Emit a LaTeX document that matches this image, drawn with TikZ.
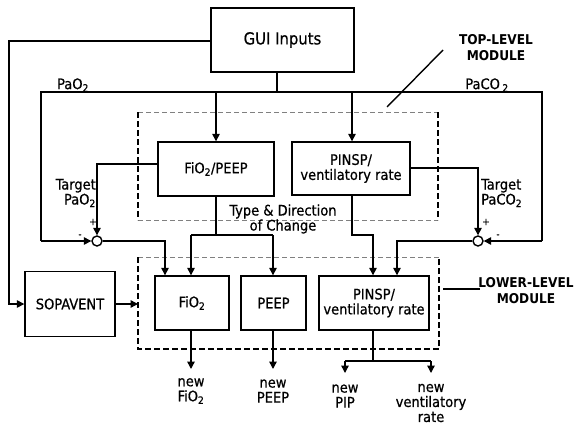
\documentclass[tikz,border=0pt]{standalone}
\usepackage{fontspec}
\setmainfont{DejaVu Sans Condensed}[FakeBold=0.6]
\newfontfamily\modfont{DejaVu Sans Condensed}
\usetikzlibrary{arrows.meta}
\begin{document}
\begin{tikzpicture}[x=1pt,y=-1pt,
  every node/.style={font=\fontsize{14.5}{15}\selectfont},
  box/.style={draw,line width=1.4pt,inner sep=0pt,align=center},
  wire/.style={line width=1.4pt},
  arr/.style={wire,-{Triangle[length=7.5pt,width=7.5pt]}},
  sumj/.style={circle,draw,line width=1.4pt,fill=white,minimum size=10pt,inner sep=0pt},
  modline/.style={line width=2.2pt,dash pattern=on 6pt off 3pt},
  modthin/.style={line width=0.6pt,gray,dash pattern=on 5pt off 3pt},
  lbl/.style={inner sep=0pt,align=center},
  sign/.style={inner sep=0pt,font=\fontsize{10}{10}\selectfont},
  modlbl/.style={inner sep=0pt,align=center,font=\fontsize{13.5}{16}\selectfont\modfont\bfseries}]
\useasboundingbox (0,0) rectangle (575,428);

% module frames: thin grey tops, heavy dashed sides
\draw[modthin] (138,112) -- (438,112);
\draw[modthin] (138,220) -- (438,220);
\draw[modline] (138,112) -- (138,220);
\draw[modline] (438,112) -- (438,220);
\draw[modthin] (138,257) -- (439,257);
\draw[modline] (138,257) -- (138,349) -- (439,349) -- (439,257);

% blocks
\node[box,minimum width=143pt,minimum height=64pt,font=\fontsize{16.5}{18}\selectfont] (gui) at (282.5,40) {GUI Inputs};
\node[box,minimum width=116pt,minimum height=54pt] (fp) at (216,169) {FiO\textsubscript{2}/PEEP};
\node[box,minimum width=118pt,minimum height=53pt] (pt) at (351,168.5) {PINSP/\\ventilatory rate};
\node[box,minimum width=90pt,minimum height=65pt] (sop) at (70,304) {SOPAVENT};
\node[box,minimum width=74pt,minimum height=54pt] (fio) at (192,303) {FiO\textsubscript{2}};
\node[box,minimum width=65pt,minimum height=54pt] (peep) at (273.5,303) {PEEP};
\node[box,minimum width=110pt,minimum height=54pt] (pl) at (374,303) {PINSP/\\ventilatory rate};

% summing junctions
\node[sumj] (sL) at (97,241) {};
\node[sumj] (sR) at (478,241) {};

% feedback bus from the GUI
\coordinate (pj) at (277,92);
\coordinate (lc) at (41,92);
\coordinate (rc) at (542,92);
\coordinate (lcb) at (41,241);
\coordinate (rcb) at (542,241);
\draw[wire] (gui.south -| pj) -- (pj);
\draw[wire] (lcb) -- (lc) -- (rc) -- (rcb);
\draw[arr] (lcb) -- (sL);
\draw[arr] (rcb) -- (sR);
\draw[arr] (fp.north |- lc) -- (fp.north);
\coordinate (pn) at (352,92);
\draw[arr] (pn) -- (pt.north -| pn);

% GUI to SOPAVENT
\coordinate (g1) at (9,41);
\coordinate (g2) at (9,304);
\draw[arr] (gui.west |- g1) -- (g1) -- (g2) -- (sop.west);
\coordinate (sb) at (138,304);
\draw[arr] (sop.east) -- (sb);

% targets into the junctions
\coordinate (tl) at (97,164);
\draw[arr] (fp.west |- tl) -- (tl) -- (sL.north);
\coordinate (tr) at (478,168);
\draw[arr] (pt.east |- tr) -- (tr) -- (sR.north);

% type & direction of change
\coordinate (td) at (216,235);
\coordinate (tdl) at (191,235);
\coordinate (tdr) at (273,235);
\draw[wire] (fp.south) -- (td);
\draw[wire] (tdl) -- (tdr);
\draw[arr] (tdl) -- (fio.north -| tdl);
\draw[arr] (tdr) -- (peep.north -| tdr);
\coordinate (fl) at (165,241);
\draw[arr] (sL.east) -- (fl) -- (fio.north -| fl);
\coordinate (pa) at (352,235);
\coordinate (pb) at (373,235);
\draw[arr] (pt.south -| pa) -- (pa) -- (pb) -- (pl.north -| pb);
\coordinate (pc) at (397,241);
\draw[arr] (sR.west) -- (pc) -- (pl.north -| pc);

% outputs
\coordinate (af) at (191,369);
\coordinate (ap) at (273,369);
\draw[arr] (fio.south -| af) -- (af);
\draw[arr] (peep.south -| ap) -- (ap);
\coordinate (ob) at (373,361);
\coordinate (obl) at (345,361);
\coordinate (obr) at (431,361);
\coordinate (oal) at (345,373);
\coordinate (oar) at (431,373);
\draw[wire] (pl.south -| ob) -- (ob);
\draw[wire] (obl) -- (obr);
\draw[arr] (obl) -- (oal);
\draw[arr] (obr) -- (oar);

% labels
\node[lbl] (nf) at (191,391) {new\\FiO\textsubscript{2}};
\node[lbl] (np) at (273,391) {new\\PEEP};
\node[lbl] (npip) at (345,396) {new\\PIP};
\node[lbl] (nvr) at (431,403) {new\\ventilatory\\rate};
\node[lbl] (pao) at (73,85) {PaO\textsubscript{2}};
\node[lbl] (paco) at (487,85) {PaCO\,\textsubscript{2}};
\node[lbl,align=right,anchor=east] (tpo) at (96,193) {Target\\PaO\textsubscript{2}};
\node[lbl,align=left,anchor=west] (tpc) at (481,193) {Target\\PaCO\textsubscript{2}};
\node[sign] at (93,222) {+};
\node[sign] at (80,236) {-};
\node[sign] at (486,222) {+};
\node[sign] at (498,236) {-};
\node[lbl] (tdc) at (283,219) {Type \& Direction\\of Change};

% module captions
\node[modlbl] (topm) at (496,48) {TOP-LEVEL\\MODULE};
\node[modlbl] (lowm) at (526,291) {LOWER-LEVEL\\MODULE};
\coordinate (tm1) at (443,50);
\coordinate (tm2) at (387,107);
\draw[wire] (tm1) -- (tm2);
\coordinate (lm1) at (443,289);
\coordinate (lm2) at (480,289);
\draw[wire] (lm1) -- (lm2);
\end{tikzpicture}
\end{document}
